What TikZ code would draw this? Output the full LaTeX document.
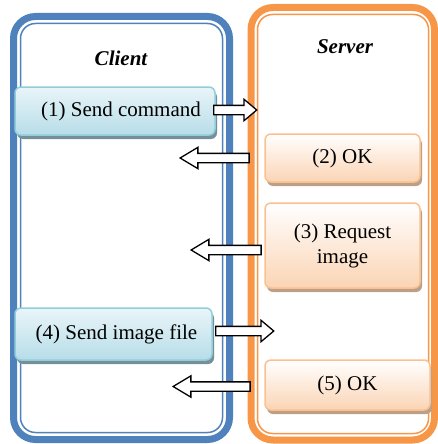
\documentclass[tikz,border=0pt]{standalone}
\usepackage{fontspec}
\setmainfont{Liberation Serif}
\usepackage{xcolor}
\usepackage{tikz}
\usetikzlibrary{shapes.arrows,shadows}

\definecolor{clientblue}{HTML}{4F81BD}
\definecolor{serverorange}{HTML}{F79646}
\definecolor{cboxline}{HTML}{92CDDC}
\definecolor{cboxtop}{HTML}{E9F5F9}
\definecolor{cboxbot}{HTML}{B7DDE8}
\definecolor{sboxline}{HTML}{FAC090}
\definecolor{sboxbot}{HTML}{FBD4B4}

\begin{document}
\begin{tikzpicture}[x=1pt,y=-1pt,
    font=\fontsize{21}{25}\selectfont,
    frame/.style={line width=7pt,rounded corners=22pt},
    innerframe/.style={line width=1.5pt,rounded corners=15pt},
    cbox/.style={draw=cboxline,line width=1.5pt,rounded corners=6pt,
        top color=cboxtop,bottom color=cboxbot,
        drop shadow={shadow xshift=2pt,shadow yshift=-4pt,fill=black!35!cboxbot,opacity=1},
        inner sep=0pt},
    sbox/.style={draw=sboxline,line width=1.5pt,rounded corners=6pt,
        top color=white,bottom color=sboxbot,
        drop shadow={shadow xshift=2pt,shadow yshift=-4pt,fill=black!25!sboxbot,opacity=1},
        inner sep=0pt,align=center},
    rarrow/.style={single arrow,draw=black,fill=white,line width=1.3pt,
        inner sep=0pt,text height=4pt,text depth=4pt,text width=0pt,
        single arrow head extend=6pt,single arrow tip angle=80},
    larrow/.style={rarrow,shape border rotate=180,single arrow tip angle=62},
    title/.style={font=\fontsize{21}{25}\selectfont\bfseries\itshape}]
    \useasboundingbox (0,0) rectangle (438,444);

    % Client frame
    \draw[frame,clientblue] (13.5,16.5) rectangle (229.5,439.5);
    \draw[innerframe,clientblue] (20.5,23.5) rectangle (222.5,432.5);
    % Server frame
    \draw[frame,serverorange] (251,7.5) rectangle (434.5,440);
    \draw[innerframe,serverorange] (257.5,14.5) rectangle (428.5,433.5);

    \node[title] (client) at (121,58) {Client};
    \node[title] (server) at (345,47) {Server};

    % Client steps
    \node[cbox,minimum width=200pt,minimum height=48pt] (c1) at (115,111) {\hspace{12pt}(1) Send command};
    \node[cbox,minimum width=197pt,minimum height=52pt] (c4) at (113.5,334) {\hspace{6pt}(4) Send image file};

    % Server steps
    \node[sbox,minimum width=155pt,minimum height=48pt] (s2) at (342.5,158) {(2) OK};
    \node[sbox,minimum width=155pt,minimum height=85pt] (s3) at (342.5,245.5) {(3) Request\\image};
    \node[sbox,minimum width=165pt,minimum height=50pt] (s5) at (347.5,385) {(5) OK};

    % Block arrows between the two sides
    \node[rarrow,minimum height=43pt] (a1) at (232.5,110) {};
    \node[larrow,minimum height=69pt] (a2) at (218.5,158) {};
    \node[larrow,minimum height=70pt] (a3) at (230,250) {};
    \node[rarrow,minimum height=58pt] (a4) at (242,331) {};
    \node[larrow,minimum height=77pt] (a5) at (215.5,386.5) {};
\end{tikzpicture}
\end{document}
